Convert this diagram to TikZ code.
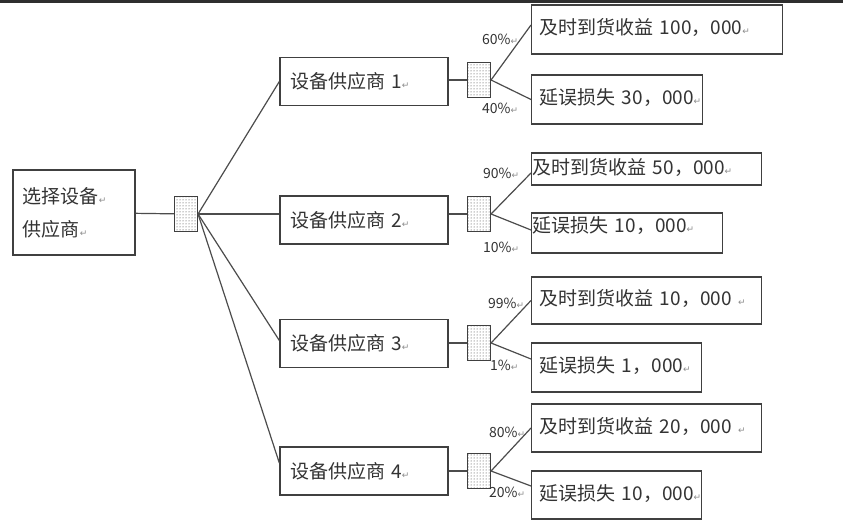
\documentclass[tikz,border=0pt]{standalone}
\usepackage{fontspec}
\usepackage{tikz}
\usetikzlibrary{positioning,patterns}
\newfontfamily\cjk{Noto Sans CJK SC}
\newfontfamily\symfont{DejaVu Sans}
\newcommand{\ret}{{\symfont\fontsize{9}{9}\selectfont\color{black!45}↵}}

\begin{document}
\begin{tikzpicture}[x=1pt,y=-1pt,
      every node/.style={font=\cjk\fontsize{19}{33}\selectfont,text=black!80},
      box node/.style={rectangle,draw=black!75,line width=1.3pt,align=left,inner ysep=0pt},
      root node/.style={box node,text width=102pt,inner xsep=10pt,minimum height=85pt},
      sup node/.style={box node,text width=148pt,inner xsep=10pt,minimum height=48pt},
      out node/.style={box node,anchor=west,inner xsep=8pt,text height=14pt,text depth=4pt},
      chance node/.style={rectangle,draw=black!75,line width=1.1pt,inner sep=0pt,
        minimum width=23pt,minimum height=35pt,pattern=dots,pattern color=black!80},
      prob/.style={anchor=west,inner sep=0pt,font=\cjk\fontsize{14}{14}\selectfont}]

      \fill[white] (0,0) rectangle (843,524);
      \useasboundingbox (0,0) rectangle (843,524);
      \fill[black!82] (0,0) rectangle (843,3);

      \node[root node] (root) at (74,212.5) {选择设备\ret\\供应商\ret};
      \node[chance node] (c0) at (186,214) {};

      \node[sup node] (s1) at (364,81.5) {\mbox{设备供应商 1\ret}};
      \node[sup node] (s2) at (364,220) {\mbox{设备供应商 2\ret}};
      \node[sup node] (s3) at (364,343.5) {\mbox{设备供应商 3\ret}};
      \node[sup node] (s4) at (364,471) {\mbox{设备供应商 4\ret}};

      \node[chance node] (c1) at (479,80) {};
      \node[chance node] (c2) at (479,214) {};
      \node[chance node] (c3) at (479,343) {};
      \node[chance node] (c4) at (479,471) {};

      \node[out node,text width=235pt,minimum height=49pt] (o1a) at (531,29.5) {\mbox{及时到货收益 100，000\ret}};
      \node[out node,text width=155pt,minimum height=49pt] (o1b) at (531,99.5) {\mbox{延误损失 30，000\ret}};
      \node[out node,text width=228pt,inner xsep=1pt,minimum height=32pt] (o2a) at (531,169) {\mbox{及时到货收益 50，000\ret}};
      \node[out node,text width=189pt,inner xsep=1pt,minimum height=40pt,text depth=16pt] (o2b) at (531,233) {\mbox{延误损失 10，000\ret}};
      \node[out node,text width=214pt,minimum height=47pt] (o3a) at (531,300.5) {\mbox{及时到货收益 10，000 \ret}};
      \node[out node,text width=154pt,minimum height=49pt] (o3b) at (531,367.5) {\mbox{延误损失 1，000\ret}};
      \node[out node,text width=214pt,minimum height=48pt] (o4a) at (531,428) {\mbox{及时到货收益 20，000 \ret}};
      \node[out node,text width=154pt,minimum height=48pt] (o4b) at (531,495) {\mbox{延误损失 10，000\ret}};

      \node[prob] (p1a) at (482,39) {60\%\ret};
      \node[prob] (p1b) at (482,108) {40\%\ret};
      \node[prob] (p2a) at (483,173) {90\%\ret};
      \node[prob] (p2b) at (483,247) {10\%\ret};
      \node[prob] (p3a) at (488,303) {99\%\ret};
      \node[prob] (p3b) at (490,365) {1\%\ret};
      \node[prob] (p4a) at (489,432) {80\%\ret};
      \node[prob] (p4b) at (489,492) {20\%\ret};

      \path[draw=black!70,line width=1.2pt]
      (root) edge (c0)
      (c0.east) edge (s1.west)
      (c0.east) edge (c0.east -| s2.west)
      (c0.east) edge ([yshift=3pt]s3.west)
      (c0.east) edge ([yshift=8pt]s4.west)
      (c1.west -| s1.east) edge (c1.west)
      (c2.west -| s2.east) edge (c2.west)
      (c3.west -| s3.east) edge (c3.west)
      (c4.west -| s4.east) edge (c4.west)
      (c1.east) edge ([yshift=4.5pt]o1a.west)
      (c1.east) edge (o1b.west)
      (c2.east) edge ([yshift=-4pt]o2a.west)
      (c2.east) edge ([yshift=3pt]o2b.west)
      (c3.east) edge (o3a.west)
      (c3.east) edge ([yshift=8.5pt]o3b.west)
      (c4.east) edge (o4a.west)
      (c4.east) edge ([yshift=9pt]o4b.west);
    \end{tikzpicture}
\end{document}
